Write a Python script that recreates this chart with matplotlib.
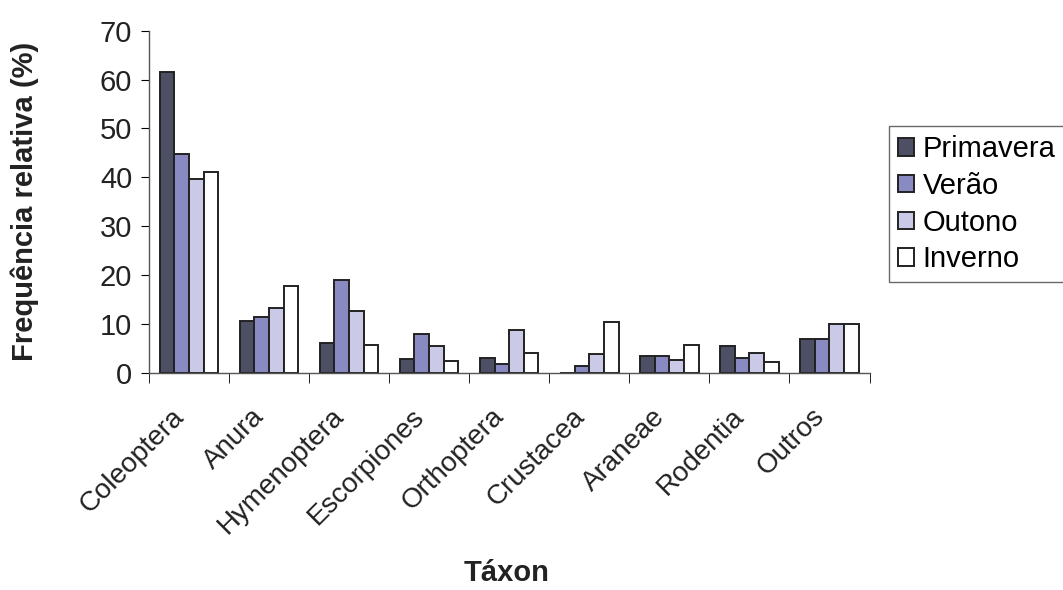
import numpy as np
import matplotlib.pyplot as plt
from matplotlib.transforms import ScaledTranslation

plt.rcParams['font.family'] = ['Liberation Sans', 'DejaVu Sans']

taxa = ['Coleoptera', 'Anura', 'Hymenoptera', 'Escorpiones', 'Orthoptera',
        'Crustacea', 'Araneae', 'Rodentia', 'Outros']
primavera = [61.5, 10.7, 6.1, 2.9, 3.1, 0.0, 3.5, 5.4, 7.0]
verao = [44.8, 11.5, 19.0, 7.9, 1.8, 1.5, 3.5, 3.1, 7.0]
outono = [39.6, 13.2, 12.7, 5.6, 8.8, 3.9, 2.7, 4.1, 10.0]
inverno = [41.0, 17.8, 5.7, 2.5, 4.1, 10.4, 5.8, 2.3, 10.0]

series = [('Primavera', primavera, '#4d5064'),
          ('Verão', verao, '#8a8ac2'),
          ('Outono', outono, '#cacae8'),
          ('Inverno', inverno, '#ffffff')]

fig = plt.figure(figsize=(10.63, 5.9), dpi=100)
ax = fig.add_axes([0.140, 0.368, 0.678, 0.580])

x = np.arange(len(taxa))
w = 0.183
for i, (name, vals, col) in enumerate(series):
    ax.bar(x + (i - 1.5) * w, vals, w, color=col, edgecolor='#222222',
           linewidth=1.4, label=name)

ax.set_xlim(-0.5, len(taxa) - 0.5)
ax.set_ylim(0, 70)
ax.set_yticks(range(0, 71, 10))
ax.tick_params(axis='y', labelsize=21, length=6, direction='out', pad=6,
               labelcolor='#222222')

ax.set_xticks(x)
ax.set_xticklabels(taxa, rotation=45, ha='right', rotation_mode='anchor',
                   fontsize=20, color='#222222')
ax.tick_params(axis='x', which='major', length=0, pad=22)
ax.set_xticks(np.arange(-0.5, len(taxa), 1), minor=True)
ax.tick_params(axis='x', which='minor', length=7, direction='out')
shift = ScaledTranslation(-0.18, 0, fig.dpi_scale_trans)
for lbl in ax.get_xticklabels():
    lbl.set_transform(lbl.get_transform() + shift)

for s in ['top', 'right']:
    ax.spines[s].set_visible(False)
for s in ['left', 'bottom']:
    ax.spines[s].set_color('#555555')
    ax.spines[s].set_linewidth(1.0)

ax.set_ylabel('Frequência relativa (%)', fontsize=21, fontweight='bold',
              labelpad=44, color='#222222')
fig.text(0.477, 0.005, 'Táxon', fontsize=21, fontweight='bold', ha='center',
         va='bottom', color='#222222')

leg = ax.legend(loc='upper left', bbox_to_anchor=(1.027, 0.72), fontsize=21,
                frameon=True, fancybox=False, edgecolor='#444444',
                handlelength=0.55, handleheight=0.55, handletextpad=0.3,
                labelspacing=0.3, borderpad=0.3, borderaxespad=0)
leg.get_frame().set_linewidth(1.0)

fig.savefig('out.png', dpi=100)
